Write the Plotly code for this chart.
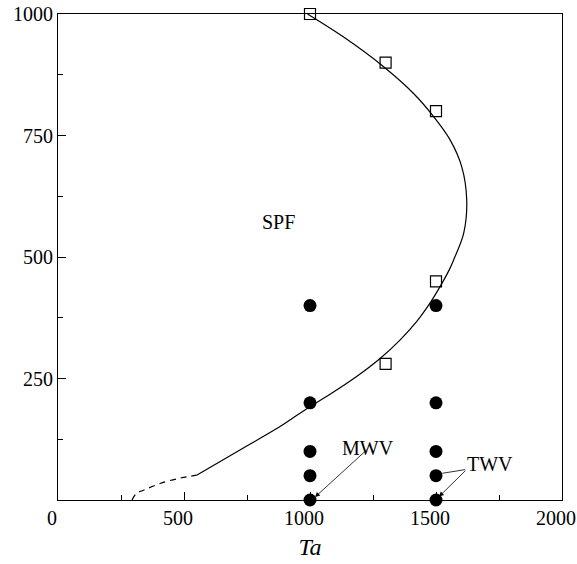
import plotly.graph_objects as go

# Stability boundary (solid part) and its extrapolated low-Re continuation (dashed)
boundary_ta = [550, 722, 881, 990, 1075, 1185, 1278, 1357, 1423, 1476, 1516, 1552,
               1570, 1610, 1622, 1602, 1556, 1489, 1410, 1291, 1132, 990]
boundary_re = [51, 103, 151, 189, 216, 254, 291, 329, 367, 405, 439, 473,
               494, 549, 617, 686, 741, 790, 837, 892, 953, 1000]
extrap_ta = [294, 312, 339, 405, 484, 550]
extrap_re = [0, 14, 20, 34, 45, 51]

# Spiral Poiseuille flow observations (open squares)
spf_ta = [1000, 1300, 1500, 1500, 1300]
spf_re = [1000, 900, 800, 450, 280]

# Wavy vortex observations (filled circles)
wv_ta = [1000, 1000, 1000, 1000, 1000, 1500, 1500, 1500, 1500, 1500]
wv_re = [400, 200, 100, 50, 0, 400, 200, 100, 50, 0]

x_ticks = [0, 500, 1000, 1500, 2000]
y_ticks = [0, 250, 500, 750, 1000]
y_tick_text = ["", "250", "500", "750", "1000"]

FONT = "Liberation Serif, Times New Roman, serif"

fig = go.Figure()
fig.add_trace(go.Scatter(x=boundary_ta, y=boundary_re, mode="lines",
                         line=dict(color="black", width=1.2, shape="spline", smoothing=1.0)))
fig.add_trace(go.Scatter(x=extrap_ta, y=extrap_re, mode="lines",
                         line=dict(color="black", width=1.2, dash="6px,5px", shape="spline")))
fig.add_trace(go.Scatter(x=spf_ta, y=spf_re, mode="markers", cliponaxis=False,
                         marker=dict(symbol="square-open", size=11, color="black",
                                     line=dict(width=1.2, color="#333"))))
fig.add_trace(go.Scatter(x=wv_ta, y=wv_re, mode="markers", cliponaxis=False,
                         marker=dict(symbol="circle", size=13, color="black")))

annotations = [
    dict(x=874, y=573, text="SPF", showarrow=False),
    dict(x=1020, y=6, ax=1231, ay=106, axref="x", ayref="y", text="",
         showarrow=True, arrowhead=2, arrowsize=1.2, arrowwidth=0.8),
    dict(x=1231, y=106, text="MWV", showarrow=False),
    dict(x=1525, y=55, ax=1622, ay=63, axref="x", ayref="y", text="",
         showarrow=True, arrowhead=0, arrowwidth=0.8),
    dict(x=1512, y=7, ax=1622, ay=63, axref="x", ayref="y", text="",
         showarrow=True, arrowhead=2, arrowsize=1.2, arrowwidth=0.8),
    dict(x=1714, y=75, text="TWV", showarrow=False),
]
for a in annotations:
    a.setdefault("font", dict(family=FONT, size=20, color="black"))
    a.setdefault("arrowcolor", "black")

fig.update_layout(
    width=577, height=564,
    margin=dict(l=58, r=15, t=14, b=64),
    paper_bgcolor="white", plot_bgcolor="white",
    showlegend=False,
    font=dict(family=FONT, size=20, color="black"),
    annotations=annotations,
    xaxis=dict(range=[0, 2000], tickvals=x_ticks, ticks="inside", ticklen=8,
               tickcolor="black", showline=True, linecolor="black", linewidth=1.2,
               mirror=True, showgrid=False, zeroline=False, ticklabeloverflow="allow",
               automargin=False, ticklabelshift=-6,
               minor=dict(ticks="inside", ticklen=5, dtick=250, tickcolor="black", showgrid=False),
               title=dict(text="<i>Ta</i>", standoff=10)),
    yaxis=dict(range=[0, 1000], tickvals=y_ticks, ticktext=y_tick_text, ticks="inside",
               ticklen=8, tickcolor="black", showline=True, linecolor="black", linewidth=1.2,
               mirror=True, showgrid=False, zeroline=False, ticklabeloverflow="allow",
               automargin=False,
               minor=dict(ticks="inside", ticklen=5, dtick=125, tickcolor="black", showgrid=False)),
)

fig.write_html("out.html")
